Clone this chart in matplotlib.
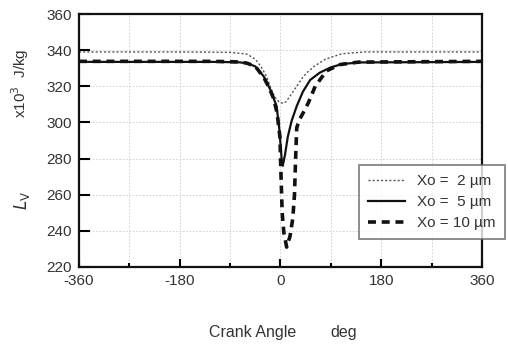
import matplotlib
matplotlib.use("Agg")
import matplotlib.pyplot as plt
from matplotlib.ticker import MultipleLocator

plt.rcParams['font.family'] = ['Liberation Sans', 'DejaVu Sans']
plt.rcParams['axes.unicode_minus'] = False

# Xo = 2 um (dotted)
x2 = [-360, -180, -90, -60, -45, -35, -25, -16, -10, -3, 5, 10, 18, 29, 40, 47, 60, 80, 110, 150, 360]
y2 = [339, 339, 338.8, 337.8, 335, 331, 325.5, 318, 314, 311.5, 310.5, 311.5, 315, 320, 325, 327.5, 331, 335, 338, 339, 339]

# Xo = 5 um (solid)
x5 = [-360, -120, -75, -60, -45, -30, -18, -7, -2, 2, 4, 8, 13, 20, 29, 40, 53, 70, 90, 110, 140, 360]
y5 = [333.5, 333.5, 333.3, 332.8, 331, 325.5, 318, 309, 296, 280, 276, 282, 292, 301, 309, 317, 323.5, 327.5, 330.5, 332.3, 333.2, 333.5]

# Xo = 10 um (dashed)
x10 = [-360, -120, -75, -60, -45, -30, -20, -12, -6, -1, 1, 3, 6, 11, 17, 22, 25, 27, 29, 33, 40, 50, 62, 82, 106, 140, 360]
y10 = [333.8, 333.8, 333.5, 332.8, 331, 325, 319, 313, 305, 292, 270, 250, 239, 231, 237, 247, 260, 280, 297, 301, 305, 311, 320, 328.5, 332, 333.4, 333.8]

labels = ['Xo =  2 \u00b5m', 'Xo =  5 \u00b5m', 'Xo = 10 \u00b5m']
xticks = [-360, -180, 0, 180, 360]
yticks = [220, 240, 260, 280, 300, 320, 340, 360]

fig = plt.figure(figsize=(5.08, 3.45), dpi=100)
ax = fig.add_axes([0.1555, 0.2261, 0.7933, 0.7333])

ax.plot(x2, y2, color='#555555', lw=1.0, ls=(0, (1.5, 1.5)), label=labels[0])
ax.plot(x5, y5, color='#111111', lw=1.6, ls='-', label=labels[1])
ax.plot(x10, y10, color='#111111', lw=2.6, ls=(0, (2.2, 1.6)), label=labels[2])

ax.set_xlim(-360, 360)
ax.set_ylim(220, 360)
ax.set_xticks(xticks)
ax.xaxis.set_minor_locator(MultipleLocator(90))
ax.set_yticks(yticks)
ax.grid(True, which='both', axis='x', color='#cccccc', lw=0.6, ls=(0, (2, 2)))
ax.grid(True, which='major', axis='y', color='#cccccc', lw=0.6, ls=(0, (2, 2)))
ax.set_axisbelow(True)

ax.tick_params(axis='both', which='major', direction='in', length=6, width=1.5,
               labelsize=11, labelcolor='#333333', pad=5)
ax.tick_params(axis='x', which='minor', direction='in', length=3, width=1.5)
ax.tick_params(axis='y', which='major', length=8)
for s in ax.spines.values():
    s.set_linewidth(1.6)
    s.set_color('#111111')

fig.text(0.497, 0.035, 'Crank Angle', ha='center', va='center', fontsize=11.5, color='#333333')
fig.text(0.677, 0.035, 'deg', ha='center', va='center', fontsize=11.5, color='#333333')

fig.text(0.044, 0.42, r'$L_{\mathrm{V}}$', rotation=90, ha='center', va='center', fontsize=12, color='#333333')
fig.text(0.040, 0.76, r'x10$^3$  J/kg', rotation=90, ha='center', va='center', fontsize=11, color='#333333')

leg = fig.legend(loc='lower left', bbox_to_anchor=(0.707, 0.307, 0.287, 0.217), mode='expand',
                 fontsize=11, frameon=True, fancybox=False, handlelength=2.4,
                 borderpad=0.6, labelspacing=0.45, handletextpad=0.8, borderaxespad=0)
leg.get_frame().set_edgecolor('#666666')
leg.get_frame().set_linewidth(1.3)
for t in leg.get_texts():
    t.set_color('#333333')

fig.savefig('out.png', dpi=100)
